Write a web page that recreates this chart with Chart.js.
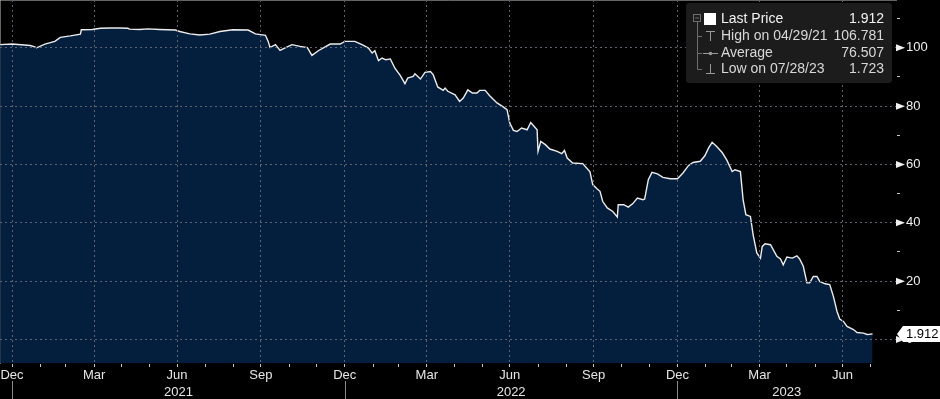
<!DOCTYPE html>
<html>
<head>
<meta charset="utf-8">
<script src="https://cdn.jsdelivr.net/npm/chart.js@4.4.0/dist/chart.umd.min.js"></script>
<style>
  html, body { margin: 0; padding: 0; background: #000; }
  canvas { display: block; }
</style>
</head>
<body>
<canvas id="chart" width="940" height="399"></canvas>
<script>
// price history, x = days since 1 Jan 2021
var days = [-13, 0, 20, 25, 27, 36, 47, 53, 64, 75, 76, 88, 97, 108, 118, 127, 129, 140, 149, 162,
  179, 184, 195, 206, 217, 228, 242, 259, 267, 278, 281, 283, 289, 294, 299, 307, 316, 324, 329, 336,
  349, 360, 365, 376, 384, 391, 395, 398, 402, 406, 410, 415, 420, 426, 431, 434, 440, 442, 448, 453,
  459, 462, 467, 473, 475, 478, 486, 491, 495, 500, 505, 510, 513, 519, 524, 532, 538, 543, 546, 550,
  554, 559, 565, 569, 576, 577, 580, 585, 590, 598, 603, 606, 609, 615, 626, 634, 637, 642, 645, 648,
  653, 659, 664, 665, 671, 676, 681, 686, 692, 694, 698, 702, 708, 714, 722, 730, 736, 742, 747, 755,
  760, 764, 768, 773, 779, 784, 790, 793, 799, 802, 805, 810, 813, 817, 821, 823, 826, 832, 835, 839,
  843, 846, 850, 856, 861, 864, 868, 872, 875, 879, 883, 886, 892, 897, 901, 905, 908, 912, 916, 923,
  927, 934, 938, 941, 944];
var prices = [101.1, 101.3, 100.8, 100.3, 100.0, 101.3, 102.2, 103.6, 104.1, 104.7, 106.2, 106.3, 106.7, 106.8, 106.78, 106.7, 106.4, 106.3, 106.5, 106.3,
  106.1, 105.6, 104.8, 104.4, 104.7, 105.6, 106.2, 106.1, 104.8, 104.3, 102.2, 100.1, 101.1, 99.1, 99.9, 101.1, 100.5, 100.1, 97.4, 99.0,
  101.3, 101.3, 102.2, 102.2, 101.1, 99.9, 98.2, 99.0, 95.6, 96.5, 95.9, 96.2, 93.0, 90.5, 87.7, 89.6, 90.2, 91.1, 89.3, 91.6,
  91.9, 90.8, 86.6, 85.4, 86.2, 85.1, 83.9, 81.6, 82.8, 85.6, 84.5, 84.5, 85.4, 85.4, 83.6, 81.1, 79.9, 78.8, 74.2, 71.7,
  71.3, 72.5, 71.9, 74.4, 71.9, 64.5, 67.9, 66.8, 65.3, 64.5, 63.7, 64.8, 62.2, 60.5, 60.3, 57.5, 53.1, 51.6, 50.8, 47.3,
  45.1, 43.9, 42.0, 46.2, 46.2, 45.4, 46.6, 48.5, 47.9, 48.2, 54.8, 57.3, 56.8, 55.6, 55.1, 55.1, 57.1, 59.6, 60.7, 61.1,
  63.0, 65.6, 67.6, 66.2, 64.1, 61.6, 57.6, 58.2, 57.6, 47.9, 42.8, 42.2, 35.9, 29.7, 27.9, 31.9, 32.8, 32.5, 30.8, 28.5,
  27.6, 25.6, 28.3, 27.9, 28.7, 27.6, 25.1, 19.4, 19.4, 21.6, 21.6, 19.9, 19.1, 18.8, 14.8, 9.6, 7.0, 6.2, 4.5, 3.4,
  2.4, 2.2, 1.72, 1.8, 1.91];

var monthNames = ['Jan', 'Feb', 'Mar', 'Apr', 'May', 'Jun', 'Jul', 'Aug', 'Sep', 'Oct', 'Nov', 'Dec'];
var quarterLabels = ['Mar', 'Jun', 'Sep', 'Dec'];
var years = ['2021', '2022', '2023'];
var yTicks = [0, 10, 20, 30, 40, 50, 60, 70, 80, 90, 100, 110];
var legendRows = [
  ['Last Price', '1.912'],
  ['High on 04/29/21', '106.781'],
  ['Average', '76.507'],
  ['Low on 07/28/23', '1.723']
];
var lastPrice = 1.912;

var FONT = "'Liberation Sans', Arial, sans-serif";
var gridColor = '#5d6470';
var base = Date.UTC(2021, 0, 1);

// month ticks sit at the end of each month, Dec 2020 .. Jul 2023
var monthTicks = [];
for (var m = 0; m < 32; m++) {
  var end = Date.UTC(2020, 12 + m, 1);
  monthTicks.push({ value: (end - base) / 864e5, name: monthNames[(11 + m) % 12] });
}
function tickLabel(v) {
  for (var i = 0; i < monthTicks.length; i++) {
    if (monthTicks[i].value === v) {
      return quarterLabels.indexOf(monthTicks[i].name) >= 0 ? monthTicks[i].name : '';
    }
  }
  return '';
}
var yearStarts = years.map(function (y) { return (Date.UTC(+y, 0, 1) - base) / 864e5; });

var points = days.map(function (d, i) { return { x: d, y: prices[i] }; });

var overlay = {
  id: 'overlay',
  afterDraw: function (chart) {
    var c = chart.ctx, xs = chart.scales.x, ys = chart.scales.y, area = chart.chartArea;
    c.save();

    // major y ticks as small flags
    c.fillStyle = '#f0f0f0';
    yTicks.forEach(function (v) {
      if (v % 20 !== 0) return;
      var y = ys.getPixelForValue(v);
      c.beginPath();
      c.moveTo(area.right, y - 3.5);
      c.lineTo(area.right + 9, y);
      c.lineTo(area.right, y + 3.5);
      c.closePath();
      c.fill();
    });

    // year row
    c.strokeStyle = '#8a8a8a';
    c.lineWidth = 1;
    c.fillStyle = '#e6e6e6';
    c.font = '13px ' + FONT;
    c.textAlign = 'center';
    c.textBaseline = 'middle';
    years.forEach(function (y, i) {
      var x0 = xs.getPixelForValue(yearStarts[i]);
      var x1 = i + 1 < years.length ? xs.getPixelForValue(yearStarts[i + 1]) : area.right;
      c.beginPath();
      c.moveTo(Math.round(x0) + 0.5, area.bottom + 18);
      c.lineTo(Math.round(x0) + 0.5, chart.height);
      c.stroke();
      c.fillText(y, (x0 + x1) / 2, area.bottom + 29);
    });

    // last price tag
    var ly = ys.getPixelForValue(lastPrice);
    c.fillStyle = '#ffffff';
    c.beginPath();
    c.moveTo(area.right + 1, ly);
    c.lineTo(area.right + 7, ly - 8);
    c.lineTo(chart.width, ly - 8);
    c.lineTo(chart.width, ly + 8);
    c.lineTo(area.right + 7, ly + 8);
    c.closePath();
    c.fill();
    c.fillStyle = '#000';
    c.textAlign = 'left';
    c.fillText(lastPrice.toFixed(3), area.right + 10, ly + 1);

    // legend box
    var bx = 686, by = 3, bw = 206, bh = 80;
    c.fillStyle = '#1c1c1c';
    c.beginPath();
    c.roundRect(bx, by, bw, bh, 3);
    c.fill();
    var rowY = [19, 36, 53, 69];
    c.strokeStyle = '#6e6e6e';
    c.lineWidth = 1;
    c.strokeRect(693.5, 14.5, 7, 7);
    c.beginPath();
    c.moveTo(695, 18); c.lineTo(699, 18);
    c.moveTo(697.5, 22); c.lineTo(697.5, 69.5);
    [36, 53, 69].forEach(function (y) { c.moveTo(697.5, y + 0.5); c.lineTo(702, y + 0.5); });
    c.stroke();
    c.fillStyle = '#ffffff';
    c.fillRect(704, 13, 12, 12);
    c.strokeStyle = '#9a9a9a';
    c.beginPath();
    c.moveTo(706, 31.5); c.lineTo(715, 31.5);
    c.moveTo(710.5, 31.5); c.lineTo(710.5, 41);
    c.moveTo(703, 53.5); c.lineTo(718, 53.5);
    c.moveTo(710.5, 64); c.lineTo(710.5, 73.5);
    c.moveTo(706, 73.5); c.lineTo(715, 73.5);
    c.stroke();
    c.fillStyle = '#9a9a9a';
    c.beginPath();
    c.arc(710.5, 53.5, 1.8, 0, Math.PI * 2);
    c.fill();
    c.font = '14px ' + FONT;
    legendRows.forEach(function (r, i) {
      c.fillStyle = i === 0 ? '#f2f2f2' : '#d8d8d8';
      c.textAlign = 'left';
      c.fillText(r[0], 721, rowY[i]);
      c.textAlign = 'right';
      c.fillText(r[1], 884, rowY[i]);
    });
    c.restore();
  }
};

new Chart(document.getElementById('chart'), {
  type: 'line',
  data: {
    datasets: [{
      data: points,
      borderColor: '#ececec',
      borderWidth: 1.4,
      backgroundColor: '#041f3d',
      fill: 'start',
      pointRadius: 0,
      tension: 0
    }]
  },
  options: {
    responsive: false,
    animation: false,
    devicePixelRatio: 1,
    layout: { padding: 0 },
    plugins: { legend: { display: false }, tooltip: { enabled: false } },
    scales: {
      x: {
        type: 'linear',
        min: -13.2,
        max: 969.7,
        afterBuildTicks: function (s) { s.ticks = monthTicks.map(function (t) { return { value: t.value }; }); },
        afterFit: function (s) { s.height = 36; s.paddingLeft = 0; s.paddingRight = 0; },
        grid: {
          z: 1,
          color: function (c) { return c.tick && tickLabel(c.tick.value) ? gridColor : 'transparent'; },
          tickColor: '#c8c8c8',
          tickLength: 4
        },
        border: { color: '#c8c8c8', dash: [2, 3] },
        ticks: {
          autoSkip: false,
          maxRotation: 0,
          padding: 1,
          color: '#e6e6e6',
          font: { family: FONT, size: 13 },
          callback: function (v) { return tickLabel(v); }
        }
      },
      y: {
        position: 'right',
        min: -8.06,
        max: 116.4,
        afterBuildTicks: function (s) { s.ticks = yTicks.map(function (v) { return { value: v }; }); },
        afterFit: function (s) { s.width = 44; s.paddingTop = 0; s.paddingBottom = 0; },
        grid: {
          z: 1,
          color: function (c) { return c.tick && c.tick.value % 20 === 0 ? gridColor : 'transparent'; },
          tickColor: '#c8c8c8',
          tickLength: 4
        },
        border: { color: '#c8c8c8', dash: [2, 3] },
        ticks: {
          padding: 6,
          color: '#f0f0f0',
          font: { family: FONT, size: 13 },
          callback: function (v) { return v % 20 === 0 ? String(v) : ''; }
        }
      }
    }
  },
  plugins: [overlay]
});
</script>
</body>
</html>
